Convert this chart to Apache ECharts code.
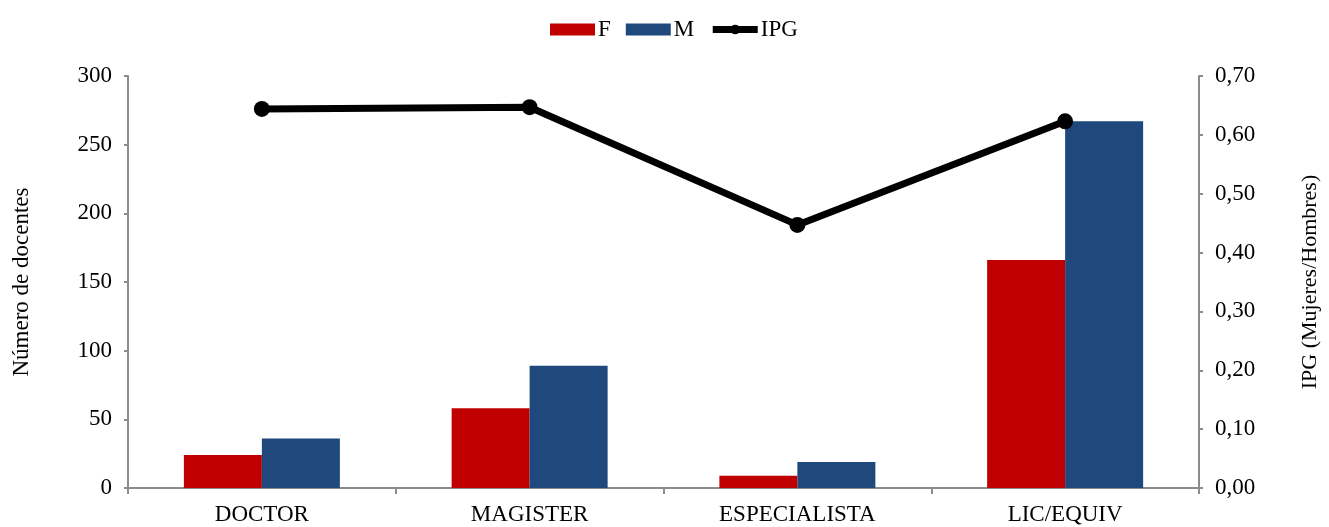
<!DOCTYPE html>
<html><head><meta charset="utf-8">
<script src="https://cdn.jsdelivr.net/npm/echarts@6/dist/echarts.min.js"></script>
<style>html,body{margin:0;padding:0;background:#fff}#c{width:1329px;height:527px}</style>
</head><body><div id="c"></div>
<script>
const categories = ['DOCTOR', 'MAGISTER', 'ESPECIALISTA', 'LIC/EQUIV'];
const femValues = [24, 58, 9, 166];
const mascValues = [36, 89, 19, 267];
const ipgValues = [0.644, 0.647, 0.447, 0.623];
const leftTicks = {min: 0, max: 300, interval: 50};
const rightTicks = {min: 0, max: 0.7, interval: 0.1};

const FONT = '"Liberation Serif", "DejaVu Serif", serif';
const FS = 23;
const axisGray = '#8c8c8c';
const chart = echarts.init(document.getElementById('c'));
chart.setOption({
  animation: false,
  textStyle: {fontFamily: FONT, color: '#000'},
  legend: {
    top: 13, left: 545, itemGap: 15, itemWidth: 45, itemHeight: 12,
    textStyle: {fontFamily: FONT, fontSize: FS, color: '#000', padding: [2, 0, 0, -2]},
    data: [{name: 'F', icon: 'rect'}, {name: 'M', icon: 'rect'},
           {name: 'IPG', lineStyle: {width: 7, color: '#000'}}]
  },
  grid: {left: 128, right: 127, top: 76, bottom: 39, containLabel: false},
  xAxis: {
    type: 'category', data: categories,
    axisLine: {lineStyle: {color: axisGray, width: 2}},
    axisTick: {show: true, length: 6, lineStyle: {color: axisGray, width: 2}},
    axisLabel: {fontFamily: FONT, fontSize: FS, color: '#000', margin: 15}
  },
  yAxis: [{
    type: 'value', min: leftTicks.min, max: leftTicks.max, interval: leftTicks.interval,
    name: 'Número de docentes', nameLocation: 'middle', nameGap: 95, nameRotate: 90,
    nameTextStyle: {fontFamily: FONT, fontSize: FS, color: '#000'},
    axisLine: {show: true, lineStyle: {color: axisGray, width: 2}},
    axisTick: {show: true, length: 4, lineStyle: {color: axisGray, width: 2}},
    axisLabel: {fontFamily: FONT, fontSize: FS, color: '#000', margin: 16},
    splitLine: {show: false}
  }, {
    type: 'value', position: 'right', min: rightTicks.min, max: rightTicks.max, interval: rightTicks.interval,
    name: 'IPG (Mujeres/Hombres)', nameLocation: 'middle', nameGap: 100, nameRotate: 90,
    nameTextStyle: {fontFamily: FONT, fontSize: 22, color: '#000'},
    axisLine: {show: true, lineStyle: {color: axisGray, width: 2}},
    axisTick: {show: true, length: 4, lineStyle: {color: axisGray, width: 2}},
    axisLabel: {fontFamily: FONT, fontSize: FS, color: '#000', margin: 16,
      formatter: v => v.toFixed(2).replace('.', ',')},
    splitLine: {show: false}
  }],
  series: [{
    name: 'F', type: 'bar', data: femValues, barWidth: 78, barGap: '0%',
    itemStyle: {color: '#C00000'}
  }, {
    name: 'M', type: 'bar', data: mascValues, barWidth: 78, barGap: '0%',
    itemStyle: {color: '#1F497D'}
  }, {
    name: 'IPG', type: 'line', yAxisIndex: 1, data: ipgValues,
    symbol: 'circle', symbolSize: 16,
    lineStyle: {color: '#000', width: 7},
    itemStyle: {color: '#000'}
  }]
});
</script></body></html>
